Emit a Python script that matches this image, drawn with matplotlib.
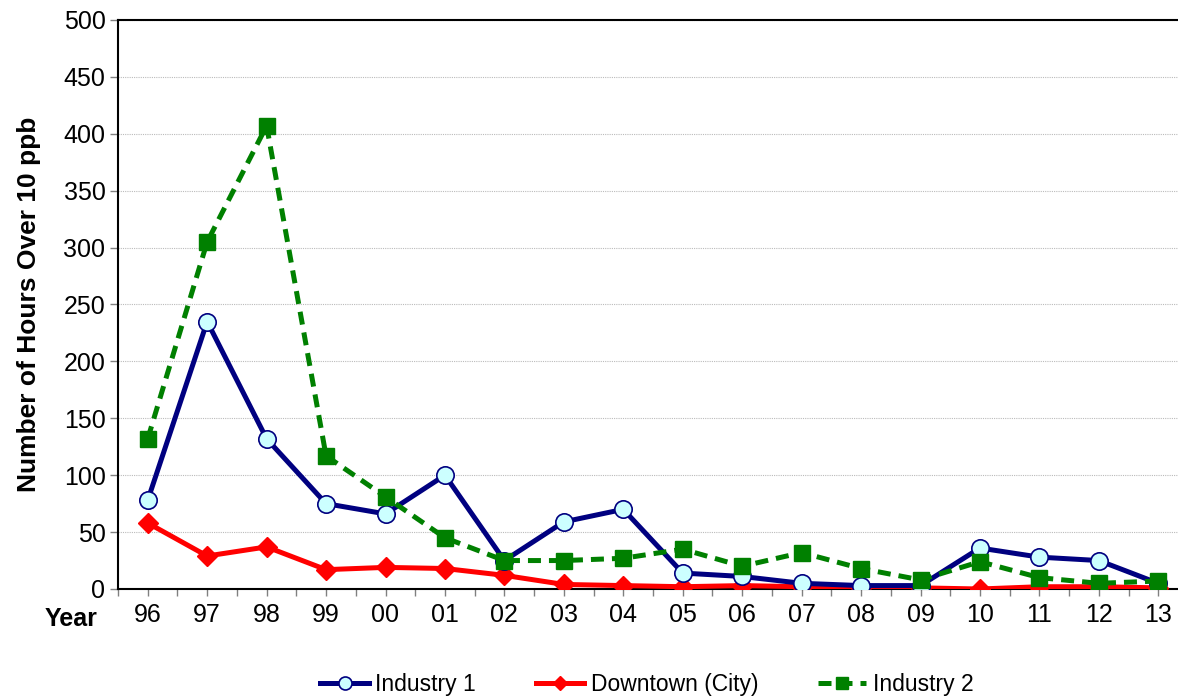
import matplotlib
matplotlib.use("Agg")
import matplotlib.pyplot as plt
import numpy as np

plt.rcParams["font.family"] = ["Liberation Sans", "DejaVu Sans"]

years = ["96", "97", "98", "99", "00", "01", "02", "03", "04",
         "05", "06", "07", "08", "09", "10", "11", "12", "13"]
industry_1 = [78, 235, 132, 75, 66, 100, 25, 59, 70, 14, 11, 5, 3, 3, 36, 28, 25, 5]
downtown = [58, 29, 37, 17, 19, 18, 12, 4, 3, 2, 3, 2, 1, 1, 0, 2, 2, 1]
industry_2 = [132, 305, 407, 117, 81, 45, 25, 25, 27, 35, 20, 32, 18, 8, 24, 10, 5, 7]

x = np.arange(len(years))

fig = plt.figure(figsize=(11.78, 6.96), dpi=100)
# plot area runs a little past the right edge of the canvas
ax = fig.add_axes([118 / 1178, 107 / 696, 1070 / 1178, 569 / 696])

ax.plot(x, industry_1, color="#000080", lw=3.6, marker="o", ms=12.5,
        mfc="#CCFFFF", mec="#000080", mew=1.2, zorder=4, label="Industry 1")
ax.plot(x, downtown, color="#FF0000", lw=3.6, marker="D", ms=10,
        mfc="#FF0000", mec="#FF0000", zorder=3, label="Downtown (City)")
ax.plot(x, industry_2, color="#008000", lw=3.6, ls=(0, (2.6, 1.6)),
        marker="s", ms=11, mfc="#008000", mec="#008000", zorder=5,
        label="Industry 2")

ax.set_xlim(-0.5, len(years) - 0.5)
ax.set_ylim(0, 500)
ax.set_yticks(np.arange(0, 501, 50))
ax.set_xticks(x)
ax.set_xticklabels(years)
ax.set_xticks(np.arange(-0.5, len(years), 1.0), minor=True)
ax.tick_params(axis="x", which="both", direction="out", length=5, width=1,
               color="#808080", labelsize=18, pad=5)
ax.tick_params(axis="y", direction="out", length=6, width=1, color="#808080",
               labelsize=18, pad=3)

ax.grid(axis="y", color="#BBBBBB", lw=0.8, ls=(0, (1, 1)))
ax.set_axisbelow(True)
for side in ax.spines.values():
    side.set_linewidth(1.5)
    side.set_color("black")

ax.set_ylabel("Number of Hours Over 10 ppb", fontsize=19, fontweight="bold",
              labelpad=16)
fig.text(71 / 1178, 1 - 619 / 696, "Year", fontsize=18, fontweight="bold",
         ha="center", va="center")

fig.legend(loc="center", bbox_to_anchor=(647 / 1178, 1 - 685 / 696), ncol=3,
           frameon=False, fontsize=16.5, handlelength=2.1, columnspacing=2.6,
           handletextpad=0.3, markerscale=0.75)

fig.savefig("out.png", dpi=100)
